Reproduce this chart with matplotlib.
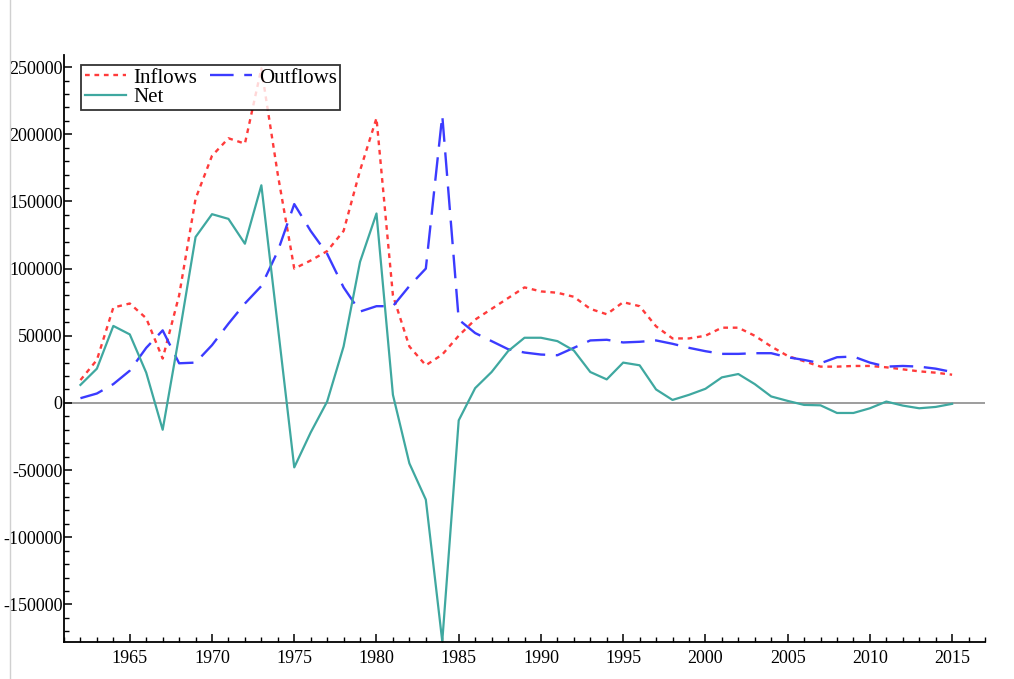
import numpy as np
import matplotlib
matplotlib.use("Agg")
import matplotlib.pyplot as plt
from matplotlib.lines import Line2D
from matplotlib.ticker import MultipleLocator

plt.rcParams['font.family'] = ['Liberation Serif', 'DejaVu Serif']

years = list(range(1962, 2016))

inflows = [17000, 32000, 71000, 74000, 63000, 33000, 80000, 152000, 184000, 197000,
           193000, 249000, 170000, 100000, 106000, 113000, 128000, 173000, 212000, 80000,
           42000, 28000, 36000, 50000, 62000, 70000, 78000, 86000, 83000, 82000,
           79000, 70000, 66000, 75000, 72000, 57000, 48000, 48000, 50000, 56000,
           56000, 50000, 42000, 35000, 31000, 27000, 27000, 27500, 27500, 26500,
           25000, 23500, 22500, 21000]

outflows = [3500, 7000, 14000, 24000, 41000, 54000, 29500, 30000, 43000, 59000,
            74000, 87000, 113000, 148000, 128000, 111000, 86000, 68000, 72000, 72000,
            87000, 100000, 214000, 62000, 52000, 46000, 40000, 37500, 36000, 35500,
            41000, 46500, 47000, 45000, 45500, 46500, 44000, 41000, 38500, 36500,
            36500, 37000, 37000, 34000, 32000, 29500, 34000, 34500, 30000, 27000,
            27500, 27000, 25500, 23000]

net = [13400, 25500, 57300, 51000, 22500, -20000, 50000, 123500, 140500, 137000,
       118500, 162000, 57000, -48000, -22000, 1000, 42000, 105000, 141000, 6000,
       -45000, -72000, -177500, -13000, 11000, 23000, 38500, 48500, 48500, 46000,
       39000, 23000, 17500, 30000, 28000, 10000, 2200, 6000, 10500, 19000,
       21500, 14000, 4800, 1500, -1500, -1800, -7500, -7500, -4000, 1000,
       -2000, -4000, -3000, -700]

fig = plt.figure(figsize=(10.14, 6.79), dpi=100)
ax = fig.add_axes([64 / 1014, 1 - 642 / 679, (985 - 64) / 1014, (642 - 55) / 679])

ax.axhline(0, color='#8c8c8c', lw=1.2, zorder=1)

l_in, = ax.plot(years, inflows, color='#ff3b3b', lw=1.7, dashes=(2, 2), label='Inflows')
l_out, = ax.plot(years, outflows, color='#3b3bff', lw=1.7, dashes=(10, 4.5), label='Outflows')
l_net, = ax.plot(years, net, color='#3fa8a0', lw=1.6, label='Net')

ax.set_xlim(1961, 2017)
ax.set_ylim(-178000, 259000)

ax.xaxis.set_major_locator(MultipleLocator(5))
ax.xaxis.set_minor_locator(MultipleLocator(1))
ax.yaxis.set_major_locator(MultipleLocator(50000))
ax.yaxis.set_minor_locator(MultipleLocator(10000))

ax.spines['top'].set_visible(False)
ax.spines['right'].set_visible(False)
for s in ('left', 'bottom'):
    ax.spines[s].set_linewidth(1.3)

ax.tick_params(axis='both', which='major', direction='in', length=6, width=1.1, pad=2)
ax.tick_params(axis='both', which='minor', direction='in', length=3.5, width=1.0)
ax.tick_params(axis='x', pad=6, labelsize=13)
ax.tick_params(axis='y', labelsize=13, pad=1)
ax.set_xticks([1965, 1970, 1975, 1980, 1985, 1990, 1995, 2000, 2005, 2010, 2015])
ax.set_yticks([-150000, -100000, -50000, 0, 50000, 100000, 150000, 200000, 250000])
ax.set_yticklabels([str(v) for v in ax.get_yticks().astype(int)])

leg = ax.legend(handles=[l_in, l_net, l_out], ncol=2, loc='upper left',
                bbox_to_anchor=(0.019, 0.983), fontsize=15, frameon=True,
                fancybox=False, edgecolor='black', borderpad=0.15,
                labelspacing=0.0, handlelength=2.0, handletextpad=0.35,
                columnspacing=0.6, borderaxespad=0)
leg.get_frame().set_linewidth(1.3)

fig.add_artist(Line2D([10 / 1014, 10 / 1014], [0, 1], color='#d0d0d0', lw=1))

fig.savefig('out.png', dpi=100)
